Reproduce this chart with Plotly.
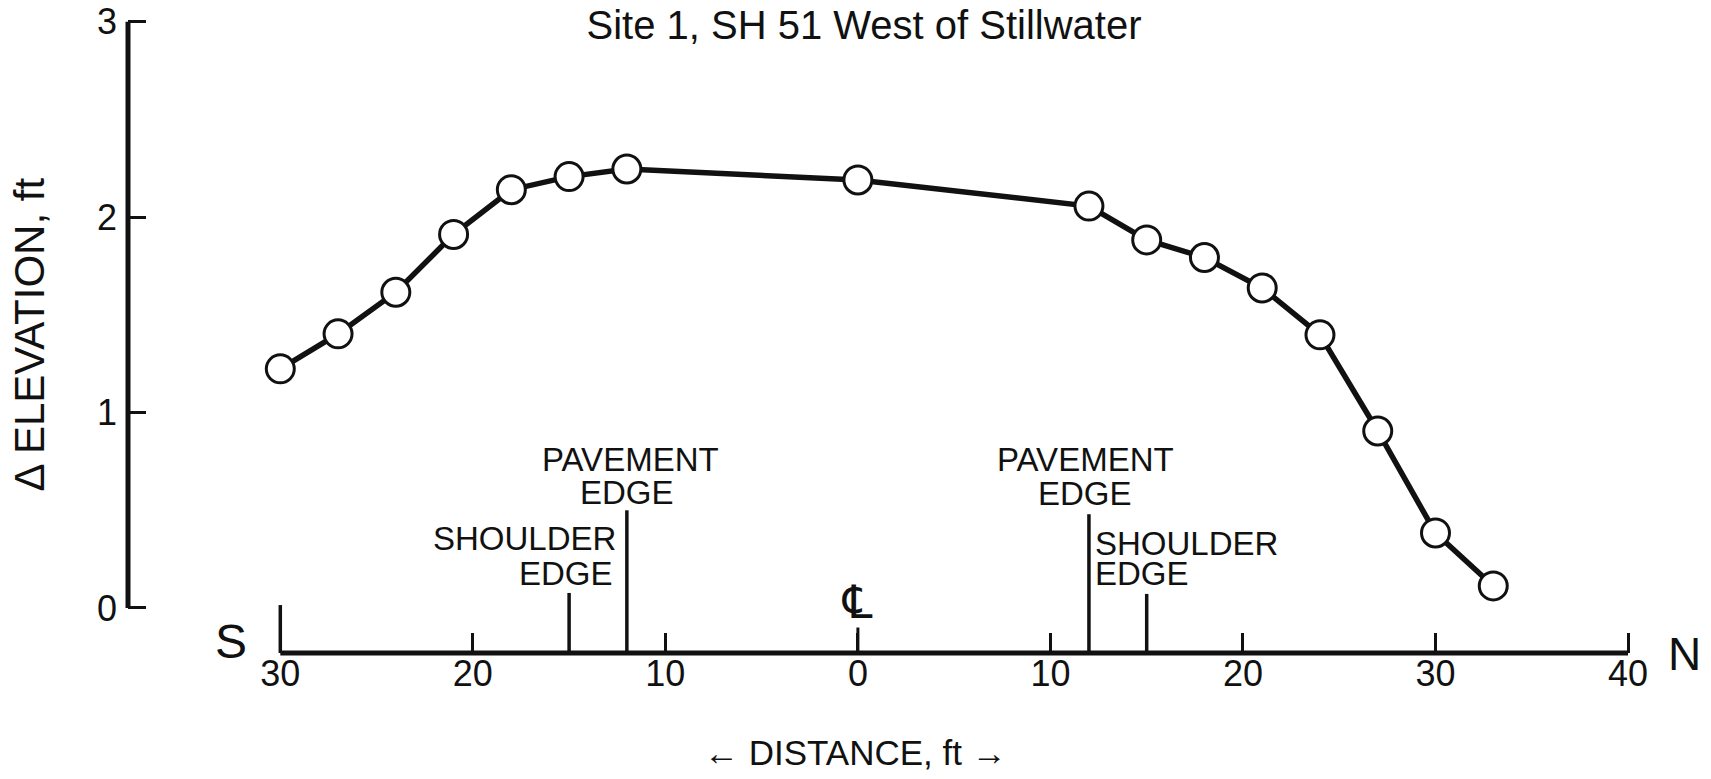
import plotly.graph_objects as go

# ---- data ----
distance_ft = [-30, -27, -24, -21, -18, -15, -12, 0, 12, 15, 18, 21, 24, 27, 30, 33]
delta_elev_ft = [1.224, 1.403, 1.616, 1.912, 2.141, 2.208, 2.247, 2.191,
                 2.057, 1.884, 1.794, 1.638, 1.398, 0.906, 0.384, 0.113]

x_tickvals = [-30, -20, -10, 0, 10, 20, 30, 40]
x_ticktext = ["30", "20", "10", "0", "10", "20", "30", "40"]
y_tickvals = [0, 1, 2, 3]
y_ticktext = ["0", "1", "2", "3"]

pavement_edge_x = [-12, 12]
pavement_edge_top = [0.50, 0.48]
shoulder_edge_x = [-15, 15]
shoulder_edge_top = [0.077, 0.072]
centerline_x = 0

title_text = "Site 1, SH 51 West of Stillwater"
x_title = "← DISTANCE, ft →"
y_title = "Δ ELEVATION, ft"

# ---- layout geometry ----
# page body has an 8px default margin; figure is sized so the page is 1711x779
W, H = 1695, 763
X_RANGE = [-37.91, 41.66]
Y_RANGE = [-0.2304, 3.03]
x_axis_span = [-30, 40]
y_axis_span = [0, 3]


def px(x):  # data x -> paper fraction
    return (x - X_RANGE[0]) / (X_RANGE[1] - X_RANGE[0])


def py(y):  # data y -> paper fraction
    return (y - Y_RANGE[0]) / (Y_RANGE[1] - Y_RANGE[0])


FONT = "Liberation Sans, Arial, Helvetica, sans-serif"
INK = "#111111"

fig = go.Figure()
fig.add_trace(go.Scatter(
    x=distance_ft, y=delta_elev_ft, mode="lines+markers",
    line=dict(color=INK, width=5.5),
    marker=dict(size=28, color="white", line=dict(color=INK, width=3)),
    cliponaxis=False, showlegend=False, hoverinfo="x+y",
))

shapes = [
    # drawn axis lines (only over the labelled spans)
    dict(type="line", xref="x", yref="paper", x0=x_axis_span[0], x1=x_axis_span[1],
         y0=0, y1=0, line=dict(color=INK, width=5)),
    dict(type="line", xref="paper", yref="y", x0=0, x1=0,
         y0=y_axis_span[0], y1=y_axis_span[1], line=dict(color=INK, width=5)),
    # tall end tick at the south end
    dict(type="line", xref="x", yref="y", x0=-30, x1=-30,
         y0=Y_RANGE[0], y1=0.015, line=dict(color=INK, width=3.5)),
    # centerline tick
    dict(type="line", xref="x", yref="y", x0=centerline_x, x1=centerline_x,
         y0=Y_RANGE[0], y1=-0.10, line=dict(color=INK, width=3)),
]
for xv, top in zip(pavement_edge_x, pavement_edge_top):
    shapes.append(dict(type="line", xref="x", yref="y", x0=xv, x1=xv,
                       y0=Y_RANGE[0], y1=top, line=dict(color=INK, width=3.5)))
for xv, top in zip(shoulder_edge_x, shoulder_edge_top):
    shapes.append(dict(type="line", xref="x", yref="y", x0=xv, x1=xv,
                       y0=Y_RANGE[0], y1=top, line=dict(color=INK, width=3.5)))

lab = dict(size=33, color=INK, family=FONT)
annotations = [
    dict(text="PAVEMENT", x=-11.82, y=0.758, xanchor="center"),
    dict(text="EDGE", x=-12.0, y=0.589, xanchor="center"),
    dict(text="SHOULDER", x=-12.45, y=0.356, xanchor="right"),
    dict(text="EDGE", x=-12.6, y=0.177, xanchor="right"),
    dict(text="PAVEMENT", x=11.80, y=0.758, xanchor="center"),
    dict(text="EDGE", x=11.78, y=0.584, xanchor="center"),
    dict(text="SHOULDER", x=12.21, y=0.330, xanchor="left"),
    dict(text="EDGE", x=12.21, y=0.177, xanchor="left"),
]
for a in annotations:
    a.update(xref="x", yref="y", showarrow=False, yanchor="middle", font=lab)

annotations += [
    dict(text="℄", x=centerline_x, y=0.031, xref="x", yref="y", showarrow=False,
         xanchor="center", yanchor="middle",
         font=dict(size=46, color=INK, family="DejaVu Sans, sans-serif")),
    dict(text="S", x=px(-32.54), y=py(-0.174), xref="paper", yref="paper", showarrow=False,
         xanchor="center", yanchor="middle", font=dict(size=48, color=INK, family=FONT)),
    dict(text="N", x=px(42.91), y=py(-0.236), xref="paper", yref="paper", showarrow=False,
         xanchor="center", yanchor="middle", font=dict(size=46, color=INK, family=FONT)),
    dict(text=x_title, x=px(-0.14), y=py(-0.742), xref="paper", yref="paper",
         showarrow=False, xanchor="center", yanchor="middle",
         font=dict(size=35, color=INK, family=FONT)),
    dict(text=y_title, x=px(-43.05), y=py(1.40), xref="paper", yref="paper",
         showarrow=False, xanchor="center", yanchor="middle", textangle=-90,
         font=dict(size=42, color=INK, family=FONT)),
]

fig.update_layout(
    width=W, height=H,
    margin=dict(l=120, r=W - 1652, t=8, b=H - 645, pad=0),
    paper_bgcolor="white", plot_bgcolor="white",
    title=dict(text=title_text, x=856 / W, xref="container", xanchor="center",
               y=1 - 17 / H, yref="container", yanchor="middle",
               font=dict(size=40, color=INK, family=FONT)),
    xaxis=dict(range=X_RANGE, domain=[0, 1], anchor="y", automargin=False,
               showline=False, ticks="inside", ticklen=20, tickwidth=3, tickcolor=INK,
               tickvals=x_tickvals, ticktext=x_ticktext, ticklabelstandoff=-4,
               ticklabeloverflow="allow",
               tickfont=dict(size=36, color=INK, family=FONT),
               showgrid=False, zeroline=False, fixedrange=True),
    yaxis=dict(range=Y_RANGE, domain=[0, 1], anchor="x", automargin=False,
               showline=False, ticks="inside", ticklen=18, tickwidth=3, tickcolor=INK,
               tickvals=y_tickvals, ticktext=y_ticktext, ticklabelstandoff=10,
               ticklabeloverflow="allow",
               tickfont=dict(size=36, color=INK, family=FONT),
               showgrid=False, zeroline=False, fixedrange=True),
    shapes=shapes, annotations=annotations,
)

fig.write_html("out.html")
